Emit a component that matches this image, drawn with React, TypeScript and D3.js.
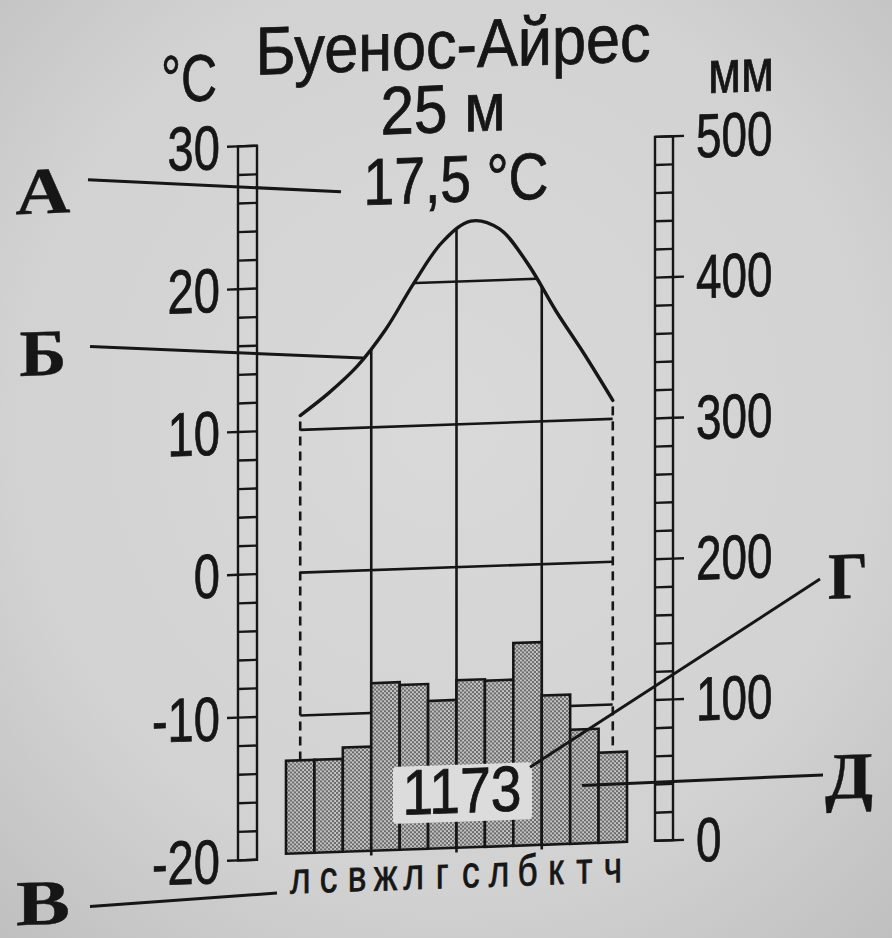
import React from 'react';
import * as d3 from 'd3';

const months = ['л', 'с', 'в', 'ж', 'л', 'г', 'с', 'л', 'б', 'к', 'т', 'ч'];
const temperature = [11.0, 12.5, 14.3, 16.8, 20.0, 22.8, 24.2, 23.6, 21.1, 17.7, 14.6, 11.3];
const precipitation = [66, 66, 74, 119, 117, 105, 119, 118, 144, 106, 81, 64];
const tempTicks = [30, 20, 10, 0, -10, -20];
const precipTicks = [500, 400, 300, 200, 100, 0];
const tempGrid = [20, 10, 0, -10];
const quarterBounds = [3, 6, 9];
const titleText = 'Буенос-Айрес';
const elevationText = '25 м';
const meanTempText = '17,5 °C';
const totalPrecipText = '1173';

const INK = '#161616';
const SANS = "'Liberation Sans', Arial, sans-serif";
const SERIF = "'Liberation Serif', 'Times New Roman', serif";

function Cond({ x, y, size, sx = 0.78, anchor = 'start', children }: any) {
  return (
    <text
      transform={`translate(${x},${y}) scale(${sx},1)`}
      textAnchor={anchor}
      fontFamily={SANS}
      fontSize={size}
      fill={INK}
      stroke={INK}
      strokeWidth={0.8}
    >
      {children}
    </text>
  );
}

function Fit({ x, y, size, len, anchor = 'middle', children, serif = false, bold = false }: any) {
  return (
    <text
      x={x}
      y={y}
      textAnchor={anchor}
      fontFamily={serif ? SERIF : SANS}
      fontWeight={bold ? 'bold' : 'normal'}
      fontSize={size}
      textLength={len}
      lengthAdjust="spacingAndGlyphs"
      fill={INK}
      stroke={INK}
      strokeWidth={serif ? 0.4 : 0.8}
    >
      {children}
    </text>
  );
}

export default function App() {
  const W = 892;
  const H = 938;
  const x = d3.scaleBand<number>().domain(d3.range(12)).range([286, 627]);
  const cx = (i: number) => (x(i) as number) + x.bandwidth() / 2;
  const yT = d3.scaleLinear().domain([-20, 30]).range([853, 139]);
  const yP = d3.scaleLinear().domain([0, 500]).range([848, 144]);
  const curve = d3.curveCatmullRom.alpha(0.5);
  const line = d3.line<number>().x((_, i) => cx(i)).y((d) => yT(d)).curve(curve);
  const area = d3
    .area<number>()
    .x((_, i) => cx(i))
    .y0(yT(-20))
    .y1((d) => yT(d))
    .curve(curve);

  const lx0 = 238, lx1 = 257;
  const rx0 = 655, rx1 = 673;
  const first = cx(0);
  const last = cx(11);
  const tempCells = d3.range(-20, 31, 2);
  const precipCells = d3.range(0, 501, 20);

  return (
    <svg
      width={W}
      height={H}
      viewBox={`0 0 ${W} ${H}`}
      style={{ position: 'absolute', left: 0, top: 0, display: 'block' }}
    >
      <defs>
        <radialGradient id="paper" cx="50%" cy="45%" r="75%">
          <stop offset="0%" stopColor="#d9d9d9" />
          <stop offset="65%" stopColor="#d2d2d2" />
          <stop offset="100%" stopColor="#bfbfbf" />
        </radialGradient>
        <pattern id="dots" width="4" height="4" patternUnits="userSpaceOnUse">
          <rect width="4" height="4" fill="#c6c6c6" />
          <circle cx="1" cy="1" r="1" fill="#474747" />
          <circle cx="3" cy="3" r="1" fill="#474747" />
        </pattern>
        <clipPath id="under" clipPathUnits="userSpaceOnUse">
          <path d={area(temperature) || ''} />
        </clipPath>
      </defs>
      <rect width={W} height={H} fill="url(#paper)" />

      <g transform="translate(450,0) skewY(-2) translate(-450,0)">
        {/* titles */}
        <Cond x={453} y={68} size={68} sx={0.9} anchor="middle">{titleText}</Cond>
        <Fit x={443} y={132} size={68} len={125}>{elevationText}</Fit>
        <Fit x={456} y={202} size={66} len={185}>{meanTempText}</Fit>
        <Fit x={189} y={92} size={66} len={56}>°C</Fit>
        <Fit x={741} y={102} size={60} len={66}>мм</Fit>

        {/* grid clipped under the temperature curve */}
        <g clipPath="url(#under)" stroke={INK} strokeWidth={2.6}>
          {tempGrid.map((t) => (
            <line key={'h' + t} x1={first} x2={last} y1={yT(t)} y2={yT(t)} />
          ))}
          {quarterBounds.map((q) => (
            <line key={'v' + q} x1={x(q) as number} x2={x(q) as number} y1={yT(30)} y2={yT(-20)} />
          ))}
        </g>
        {/* dashed side lines */}
        {[0, 11].map((i) => (
          <line
            key={'d' + i}
            x1={cx(i)}
            x2={cx(i)}
            y1={yT(temperature[i]) + 6}
            y2={yP(precipitation[i])}
            stroke={INK}
            strokeWidth={2.6}
            strokeDasharray="9 6"
          />
        ))}

        {/* temperature curve */}
        <path d={line(temperature) || ''} fill="none" stroke={INK} strokeWidth={3.4} strokeLinecap="round" />

        {/* precipitation bars */}
        {precipitation.map((v, i) => (
          <rect
            key={'b' + i}
            x={x(i) as number}
            y={yP(v)}
            width={x.bandwidth()}
            height={yP(0) - yP(v)}
            fill="url(#dots)"
            stroke={INK}
            strokeWidth={2.6}
          />
        ))}

        {/* month labels */}
        {months.map((m, i) => (
          <Cond key={'m' + i} x={cx(i)} y={888} size={44} sx={0.8} anchor="middle">
            {m}
          </Cond>
        ))}

        {/* left temperature ladder: one cell per 2 °C */}
        <g stroke={INK} strokeWidth={2.4} fill="none">
          <rect x={lx0} y={yT(30)} width={lx1 - lx0} height={yT(-20) - yT(30)} />
          {tempCells.map((t) => (
            <line key={'lc' + t} x1={lx0} x2={lx1} y1={yT(t)} y2={yT(t)} />
          ))}
          {tempTicks.map((t) => (
            <line key={'lt' + t} x1={lx0 - 11} x2={lx0} y1={yT(t)} y2={yT(t)} />
          ))}
        </g>
        {tempTicks.map((t) => (
          <Cond key={'ll' + t} x={220} y={yT(t) + 22} size={62} sx={0.76} anchor="end">
            {String(t)}
          </Cond>
        ))}

        {/* right precipitation ladder: one cell per 20 mm */}
        <g stroke={INK} strokeWidth={2.4} fill="none">
          <rect x={rx0} y={yP(500)} width={rx1 - rx0} height={yP(0) - yP(500)} />
          {precipCells.map((p) => (
            <line key={'rc' + p} x1={rx0} x2={rx1} y1={yP(p)} y2={yP(p)} />
          ))}
          {precipTicks.map((p) => (
            <line key={'rt' + p} x1={rx1} x2={rx1 + 11} y1={yP(p)} y2={yP(p)} />
          ))}
        </g>
        {precipTicks.map((p) => (
          <Cond key={'rl' + p} x={696} y={yP(p) + 22} size={62} sx={0.74} anchor="start">
            {String(p)}
          </Cond>
        ))}

        {/* annual total box */}
        <rect x={393} y={765} width={139} height={57} rx={4} fill="#dcdcdc" />
        <Fit x={462} y={813} size={64} len={119}>{totalPrecipText}</Fit>

        {/* callout lines */}
        <g stroke={INK} strokeWidth={3}>
          <line x1={88} y1={167} x2={341} y2={188} />
          <line x1={90} y1={334} x2={363} y2={355} />
          <line x1={90} y1={894} x2={277} y2={887} />
          <line x1={820} y1={592} x2={530} y2={770} />
          <line x1={823} y1={788} x2={582} y2={790} />
        </g>
        <Fit x={43} y={199} size={66} len={55} serif bold>А</Fit>
        <Fit x={43} y={361} size={66} len={47} serif bold>Б</Fit>
        <Fit x={43} y={910} size={64} len={54} serif bold>В</Fit>
        <Fit x={848} y={612} size={66} len={40} serif bold>Г</Fit>
        <Fit x={849} y={812} size={66} len={48} serif bold>Д</Fit>
      </g>
    </svg>
  );
}
